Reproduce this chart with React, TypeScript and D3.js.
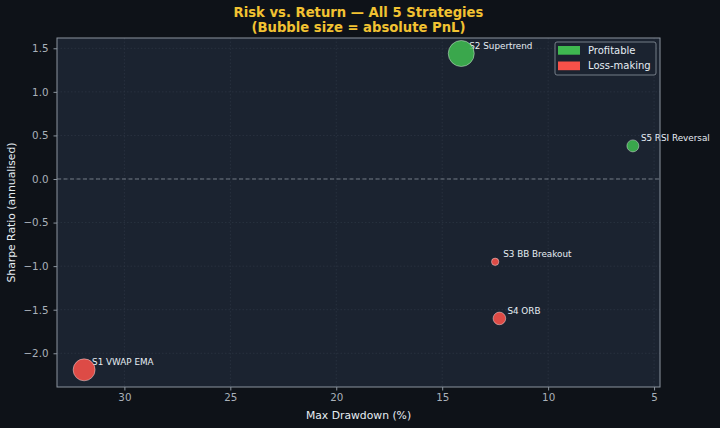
import { scaleLinear, scaleSqrt, select, axisBottom, axisLeft } from "d3";
import { useEffect, useRef } from "react";

const strategies = ["S1 VWAP EMA", "S2 Supertrend", "S3 BB Breakout", "S4 ORB", "S5 RSI Reversal"];
const maxDrawdown = [31.9, 14.1, 12.5, 12.3, 6.0];
const sharpe = [-2.19, 1.44, -0.95, -1.6, 0.38];
const pnl = [-3020, 4230, -340, -1000, 900];
const xTicks = [30, 25, 20, 15, 10, 5];
const yTicks = [-2.0, -1.5, -1.0, -0.5, 0.0, 0.5, 1.0, 1.5];
const legendItems = [
  { label: "Profitable", color: "#3fb950" },
  { label: "Loss-making", color: "#f85149" },
];

const W = 720;
const H = 428;
const margin = { top: 38, right: 60, bottom: 41, left: 57 };
const font = "'DejaVu Sans', sans-serif";
const bg = "#0e1218";

export default function App() {
  const svgRef = useRef<SVGSVGElement | null>(null);

  useEffect(() => {
    document.body.style.margin = "0";
    document.body.style.background = bg;
  }, []);

  useEffect(() => {
    if (!svgRef.current) return;
    const svg = select(svgRef.current);
    svg.selectAll("*").remove();

    const innerW = W - margin.left - margin.right;
    const innerH = H - margin.top - margin.bottom;

    const x = scaleLinear().domain([33.18, 4.72]).range([0, innerW]);
    const y = scaleLinear().domain([-2.387, 1.618]).range([innerH, 0]);
    const r = scaleSqrt().domain([0, Math.max(...pnl.map(Math.abs))]).range([0, 13]);

    svg.append("rect").attr("width", W).attr("height", H).attr("fill", bg);

    const titles = ["Risk vs. Return — All 5 Strategies", "(Bubble size = absolute PnL)"];
    svg
      .append("g")
      .selectAll("text")
      .data(titles)
      .join("text")
      .attr("x", margin.left + innerW / 2)
      .attr("y", (_, i) => 17 + i * 15)
      .attr("text-anchor", "middle")
      .attr("font-family", font)
      .attr("font-weight", "bold")
      .attr("font-size", 13.2)
      .attr("fill", "#f2c232")
      .text((d) => d);

    const g = svg.append("g").attr("transform", `translate(${margin.left},${margin.top})`);
    g.append("rect").attr("width", innerW).attr("height", innerH).attr("fill", "#1b2330");

    // grid
    g.append("g")
      .selectAll("line")
      .data(xTicks)
      .join("line")
      .attr("x1", (d) => x(d))
      .attr("x2", (d) => x(d))
      .attr("y1", 0)
      .attr("y2", innerH)
      .attr("stroke", "#2c3542")
      .attr("stroke-width", 0.8)
      .attr("stroke-dasharray", "1.5,2");
    g.append("g")
      .selectAll("line")
      .data(yTicks)
      .join("line")
      .attr("x1", 0)
      .attr("x2", innerW)
      .attr("y1", (d) => y(d))
      .attr("y2", (d) => y(d))
      .attr("stroke", "#2c3542")
      .attr("stroke-width", 0.8)
      .attr("stroke-dasharray", "1.5,2");

    g.append("line")
      .attr("x1", 0)
      .attr("x2", innerW)
      .attr("y1", y(0))
      .attr("y2", y(0))
      .attr("stroke", "#7d8590")
      .attr("stroke-width", 0.9)
      .attr("stroke-dasharray", "4,2.5");

    const points = strategies.map((name, i) => ({
      name,
      dd: maxDrawdown[i],
      sr: sharpe[i],
      pnl: pnl[i],
    }));

    g.append("g")
      .selectAll("text")
      .data(points)
      .join("text")
      .attr("x", (d) => x(d.dd) + 8)
      .attr("y", (d) => y(d.sr) - 7)
      .attr("dominant-baseline", "middle")
      .attr("font-family", font)
      .attr("font-size", 8.8)
      .attr("fill", "#e6edf3")
      .text((d) => d.name);

    g.append("g")
      .selectAll("circle")
      .data(points)
      .join("circle")
      .attr("cx", (d) => x(d.dd))
      .attr("cy", (d) => y(d.sr))
      .attr("r", (d) => r(Math.abs(d.pnl)))
      .attr("fill", (d) => (d.pnl >= 0 ? "#3fb950" : "#f85149"))
      .attr("fill-opacity", 0.88)
      .attr("stroke", "#ffffff")
      .attr("stroke-opacity", 0.5)
      .attr("stroke-width", 0.8);

    // frame
    g.append("rect")
      .attr("width", innerW)
      .attr("height", innerH)
      .attr("fill", "none")
      .attr("stroke", "#8b949e")
      .attr("stroke-width", 1);

    const xAxis = g
      .append("g")
      .attr("transform", `translate(0,${innerH})`)
      .call(axisBottom(x).tickValues(xTicks).tickFormat((d) => String(d)).tickSize(3.5).tickPadding(3.5));
    const yAxis = g
      .append("g")
      .call(
        axisLeft(y)
          .tickValues(yTicks)
          .tickFormat((d) => (+d < 0 ? "\u2212" + Math.abs(+d).toFixed(1) : (+d).toFixed(1)))
          .tickSize(3.5)
          .tickPadding(5)
      );
    for (const ax of [xAxis, yAxis]) {
      ax.select(".domain").remove();
      ax.selectAll("line").attr("stroke", "#8b949e");
      ax.selectAll("text")
        .attr("fill", "#a9b1ba")
        .attr("font-family", font)
        .attr("font-size", 10.3);
    }

    svg
      .append("text")
      .attr("x", margin.left + innerW / 2)
      .attr("y", 419)
      .attr("text-anchor", "middle")
      .attr("font-family", font)
      .attr("font-size", 10.8)
      .attr("fill", "#e6edf3")
      .text("Max Drawdown (%)");
    svg
      .append("text")
      .attr("transform", `translate(15,${margin.top + innerH / 2}) rotate(-90)`)
      .attr("text-anchor", "middle")
      .attr("font-family", font)
      .attr("font-size", 10.8)
      .attr("fill", "#e6edf3")
      .text("Sharpe Ratio (annualised)");

    // legend
    const lg = g.append("g").attr("transform", `translate(${innerW - 105},4)`);
    lg.append("rect")
      .attr("width", 101)
      .attr("height", 33)
      .attr("rx", 2)
      .attr("fill", "#1b2330")
      .attr("stroke", "#8b949e")
      .attr("stroke-width", 0.8);
    const rows = lg
      .selectAll("g")
      .data(legendItems)
      .join("g")
      .attr("transform", (_, i) => `translate(3,${4 + i * 15.5})`);
    rows.append("rect").attr("width", 22).attr("height", 8.7).attr("fill", (d) => d.color);
    rows
      .append("text")
      .attr("x", 30)
      .attr("y", 4.6)
      .attr("dominant-baseline", "middle")
      .attr("font-family", font)
      .attr("font-size", 10)
      .attr("fill", "#e6edf3")
      .text((d) => d.label);
  }, []);

  return (
    <div style={{ width: W, height: H }}>
      <svg
        ref={svgRef}
        width={W}
        height={H}
        style={{ display: "block" }}
        role="img"
        aria-label="Risk vs return bubble chart"
      />
    </div>
  );
}
